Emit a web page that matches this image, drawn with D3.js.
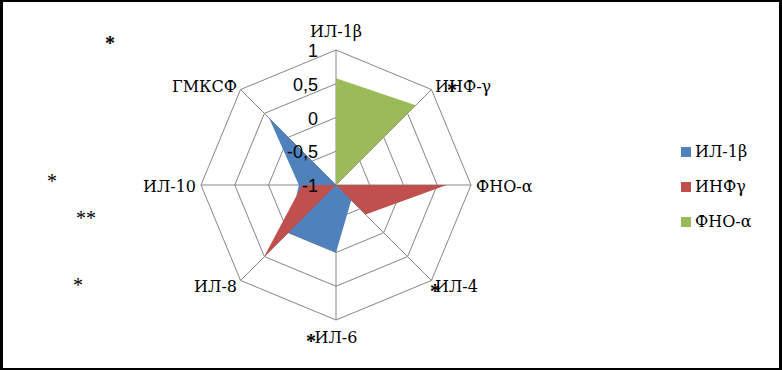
<!DOCTYPE html>
<html>
<head>
<meta charset="utf-8">
<script src="https://cdn.jsdelivr.net/npm/d3@7"></script>
<style>
html,body{margin:0;padding:0;background:#fff;}
svg{display:block;}
.serif{font-family:'DejaVu Serif',serif;}
.star{font-family:'Liberation Serif','Times New Roman',serif;}
.sans{font-family:'Liberation Sans',Arial,sans-serif;}
</style>
</head>
<body>
<svg id="chart" width="782" height="370"></svg>
<script>
// ---- data ----
const categories = ['ИЛ-1β','ИНФ-γ','ФНО-α','ИЛ-4','ИЛ-6','ИЛ-8','ИЛ-10','ГМКСФ'];
const seriesNames = ['ИЛ-1β','ИНФγ','ФНО-α'];
const seriesIL1b = [-1, -1, -1, -0.68, 0, 0, -0.45, 0.4];
const seriesINFg = [-1, -1, 0.64, -0.38, -1, 0.51, -0.5, -1];
const seriesFNOa = [0.58, 0.67, -1, -1, -1, -1, -1, -1];
const tickValues = [-1, -0.5, 0, 0.5, 1];
const tickLabels = ['-1', '-0,5', '0', '0,5', '1'];
const colors = ['#4F81BD', '#C0504D', '#9BBB59'];
// significance marks
const marks = [
  {t:'*', x:110, y:40, bold:true},
  {t:'*', x:52, y:178, bold:false},
  {t:'**', x:86, y:215, bold:false},
  {t:'*', x:78, y:282, bold:false},
  {t:'*', x:452, y:87, bold:true},
  {t:'*', x:435, y:288, bold:true},
  {t:'*', x:311, y:338, bold:true}
];

const svg = d3.select('#chart');
const W = 782, H = 370;
svg.append('rect').attr('x',0).attr('y',0).attr('width',W).attr('height',H).attr('fill','#000');
svg.append('rect').attr('x',3).attr('y',2).attr('width',W-6).attr('height',H-4).attr('fill','#fff');

const cx = 336, cy = 185, R = 135;
const r = d3.scaleLinear().domain([-1, 1]).range([0, R]);
const ang = d3.scaleLinear().domain([0, categories.length]).range([0, 2*Math.PI]);
const pt = (i, v) => [cx + r(v)*Math.sin(ang(i)), cy - r(v)*Math.cos(ang(i))];

const g = svg.append('g');
// rings
const rings = tickValues.filter(v => v > -1);
g.selectAll('polygon.ring').data(rings).enter().append('polygon')
  .attr('points', v => categories.map((c,i) => pt(i, v).join(',')).join(' '))
  .attr('fill','none').attr('stroke','#868686').attr('stroke-width',1);
// spokes
g.selectAll('line.spoke').data(categories).enter().append('line')
  .attr('x1',cx).attr('y1',cy)
  .attr('x2',(c,i)=>pt(i,1)[0]).attr('y2',(c,i)=>pt(i,1)[1])
  .attr('stroke','#868686').attr('stroke-width',1);

// series areas
const series = [seriesIL1b, seriesINFg, seriesFNOa];
const line = d3.line().curve(d3.curveLinearClosed);
g.selectAll('path.series').data(series).enter().append('path')
  .attr('d', s => line(s.map((v,i) => pt(i, v))))
  .attr('fill', (s,k) => colors[k]).attr('stroke','none');

// tick labels
g.selectAll('text.tick').data(tickValues).enter().append('text')
  .attr('class','sans')
  .attr('x', 318).attr('y', v => cy - r(v) + 1)
  .attr('text-anchor','end').attr('dominant-baseline','central')
  .attr('font-size',18)
  .attr('fill','#000')
  .text((v,i) => tickLabels[i]);

// category labels
categories.forEach((c,i) => {
  const a = ang(i), s = Math.sin(a), co = Math.cos(a);
  let x, y, anchor;
  if (Math.abs(s) < 1e-6) {
    x = cx; anchor = 'middle';
    y = co > 0 ? cy - R - 13 : cy + R + 23;
  } else {
    x = cx + (R+5)*s; anchor = s > 0 ? 'start' : 'end';
    y = cy - (R+6)*co + 7;
  }
  svg.append('text').attr('class','serif').attr('x',x).attr('y',y).attr('text-anchor',anchor)
    .attr('font-size',16).attr('fill','#000').text(c);
});

// legend
const lg = svg.append('g');
seriesNames.forEach((n,k) => {
  const y0 = 147 + k*35;
  lg.append('rect').attr('x',681).attr('y',y0).attr('width',10).attr('height',10).attr('fill',colors[k]);
  lg.append('text').attr('class','serif').attr('x',695).attr('y',y0+10).attr('font-size',16)
    .attr('fill','#000').text(n);
});

// asterisks
svg.selectAll('text.mark').data(marks).enter().append('text')
  .attr('class','star')
  .attr('x', d => d.x).attr('y', d => d.y + 10)
  .attr('text-anchor','middle')
  .attr('font-size', 20)
  .attr('font-weight', d => d.bold ? 'bold' : 'normal')
  .attr('fill','#000').text(d => d.t);
</script>
</body>
</html>
